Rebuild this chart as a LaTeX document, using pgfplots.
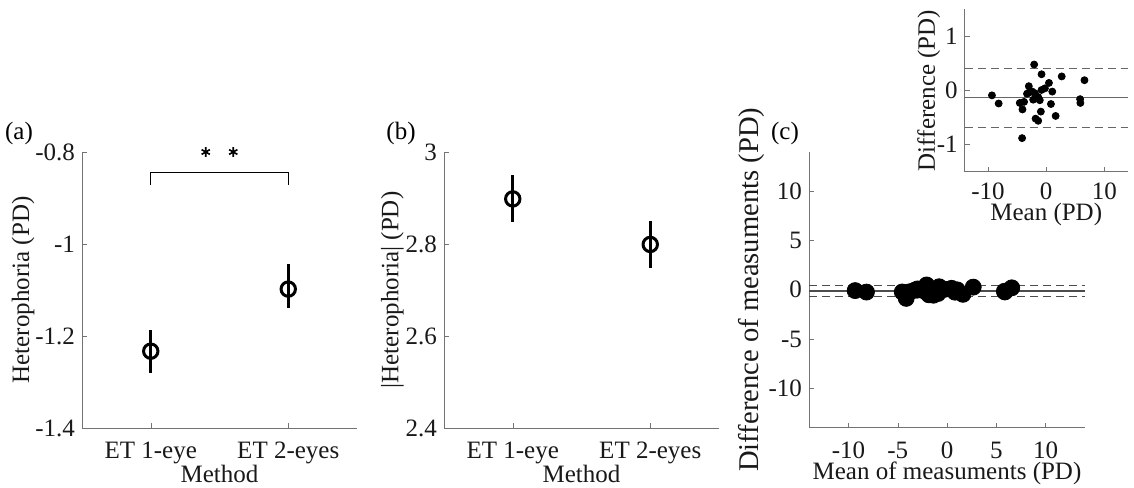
\documentclass[border=0pt]{standalone}
\usepackage{fontspec}
\setmainfont{Liberation Serif}
\usepackage{pgfplots}
\usepackage{pgfplotstable}
\pgfplotsset{compat=1.18}

% Bland-Altman data (mean, difference)
\pgfplotstableread{
x y
-9.32 -0.09
-8.17 -0.24
-4.54 -0.23
-3.80 -0.21
-4.08 -0.35
-4.14 -0.88
-2.07 0.48
-0.80 0.30
2.66 0.26
6.57 0.19
5.82 -0.16
5.87 -0.23
-2.99 0.08
-3.00 -0.04
-2.40 -0.02
-1.95 -0.05
-1.66 -0.14
-2.24 -0.17
-1.38 -0.12
-0.80 0.01
-0.22 0.04
0.47 0.14
1.04 -0.02
0.81 -0.25
-0.92 -0.39
-1.83 -0.52
-1.38 -0.56
1.62 -0.47
-3.30 -0.06
-1.10 -0.18
}\blanddata

\pgfplotsset{
  matlab/.style={
    scale only axis,
    axis x line=bottom, axis y line=left,
    axis line style={black!55,-},
    tick style={black!55},
    tick align=inside,
    major tick length=2.5pt,
    font=\fontsize{12.5}{14}\selectfont,
    tick label style={font=\fontsize{12.5}{14}\selectfont, black!90},
    xticklabel style={yshift=-3.5pt},
    label style={font=\fontsize{12.5}{14}\selectfont, black!90},
    xlabel style={at={(axis description cs:0.5,0)}, anchor=center, yshift=-23pt},
    ylabel style={at={(axis description cs:0,0.5)}, anchor=center},
    /pgf/number format/assume math mode=true,
    clip=false,
  },
  catplot/.style={
    matlab,
    width=137.5pt, height=138pt,
    xmin=0.5, xmax=2.5,
    xtick={1,2}, xticklabels={ET 1-eye, ET 2-eyes},
    xlabel={Method},
  },
  errpt/.style={
    only marks, black, line width=1.5pt, mark=o, mark size=3.6pt,
    mark options={line width=1.5pt},
    /pgfplots/error bars/y dir=both,
    /pgfplots/error bars/y explicit,
    /pgfplots/error bars/error mark=none,
    /pgfplots/error bars/error bar style={line width=1.5pt},
  },
}

\begin{document}
\begin{tikzpicture}
\path[use as bounding box] (0,0) rectangle (567pt,243.5pt);

% (a)
\begin{axis}[catplot, at={(41pt,29.5pt)}, anchor=south west,
  ymin=-1.4, ymax=-0.8, ytick={-1.4,-1.2,-1,-0.8},
  yticklabels={-1.4,-1.2,-1,-0.8},
  ylabel={Heterophoria (PD)},
  ylabel style={yshift=29.5pt}]
\addplot[errpt] coordinates {
  (1,-1.233) +- (0,0.047)
};
\addplot[errpt] coordinates {
  (2,-1.098) += (0,0.054) -= (0,0.042)
};
\addplot[black, line width=0.5pt] coordinates {
  (1,-0.872) (1,-0.845) (2,-0.845) (2,-0.872)
};
\addplot[only marks, black, mark=asterisk, mark size=2.4pt, mark options={line width=0.8pt}] coordinates {
  (1.4,-0.8) (1.6,-0.8)
};
\end{axis}
\node[font=\fontsize{12.5}{14}\selectfont] at (9.5pt,177pt) {(a)};

% (b)
\begin{axis}[catplot, at={(222pt,29.5pt)}, anchor=south west,
  ymin=2.4, ymax=3, ytick={2.4,2.6,2.8,3},
  yticklabels={2.4,2.6,2.8,3},
  ylabel={|Heterophoria| (PD)},
  ylabel style={yshift=25.75pt}]
\addplot[errpt] coordinates {
  (1,2.898) += (0,0.052) -= (0,0.050)
};
\addplot[errpt] coordinates {
  (2,2.799) +- (0,0.052)
};
\end{axis}
\node[font=\fontsize{12.5}{14}\selectfont] at (200.5pt,177pt) {(b)};

% (c) main Bland-Altman
\begin{axis}[matlab, at={(404.5pt,29.65pt)}, anchor=south west,
  width=138pt, height=138pt,
  xmin=-14, xmax=14, ymin=-14, ymax=14,
  xtick={-10,-5,0,5,10}, ytick={-10,-5,0,5,10},
  xlabel={Mean of measuments (PD)},
  ylabel={Difference of measuments (PD)},
  ylabel style={yshift=29pt, font=\fontsize{14.3}{16}\selectfont}]
\addplot[black!70, line width=0.6pt] coordinates {(-14,-0.13) (14,-0.13)};
\addplot[black!70, line width=0.6pt, dash pattern=on 4pt off 2.5pt] coordinates {(-14,0.41) (14,0.41)};
\addplot[black!70, line width=0.6pt, dash pattern=on 4pt off 2.5pt] coordinates {(-14,-0.675) (14,-0.675)};
\addplot[only marks, mark=*, mark size=4pt, black] table[x=x, y=y] {\blanddata};
\end{axis}
\node[font=\fontsize{12.5}{14}\selectfont] at (392.5pt,177pt) {(c)};

% (c) inset
\begin{axis}[matlab, at={(482.35pt,157.65pt)}, anchor=south west,
  width=81.5pt, height=81.2pt,
  xmin=-14, xmax=14, ymin=-1.5, ymax=1.5,
  xtick={-10,0,10}, ytick={-1,0,1},
  xticklabel style={yshift=1.5pt},
  xlabel={Mean (PD)}, ylabel={Difference (PD)},
  xlabel style={yshift=1.5pt}, ylabel style={yshift=18pt}]
\addplot[black!60, line width=0.5pt] coordinates {(-14,-0.13) (14,-0.13)};
\addplot[black!60, line width=0.5pt, dash pattern=on 4pt off 2.5pt] coordinates {(-14,0.41) (14,0.41)};
\addplot[black!60, line width=0.5pt, dash pattern=on 4pt off 2.5pt] coordinates {(-14,-0.675) (14,-0.675)};
\addplot[only marks, mark=*, mark size=1.75pt, black] table[x=x, y=y] {\blanddata};
\end{axis}
\end{tikzpicture}
\end{document}
